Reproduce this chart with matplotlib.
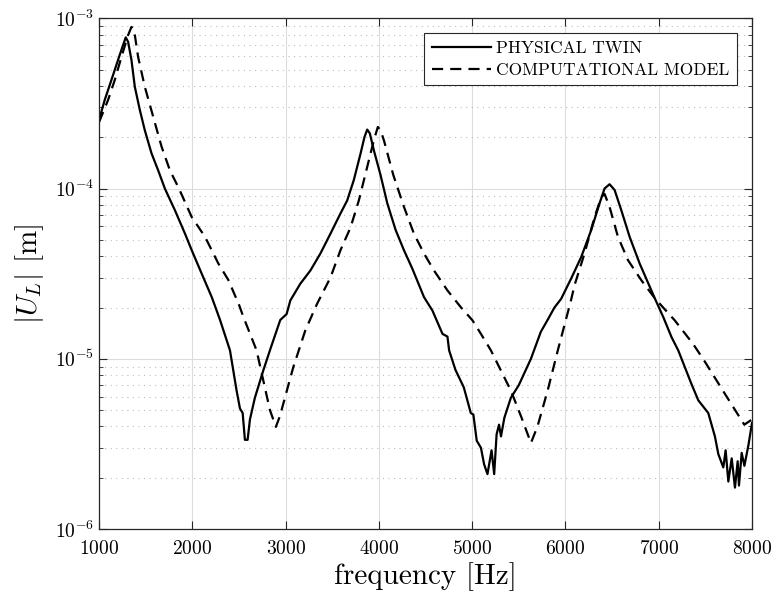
from matplotlib import pyplot as plt
from matplotlib.ticker import LogLocator, NullLocator, NullFormatter

# fuentes estilo LaTeX
plt.rcParams['font.family'] = ['cmr10']
plt.rcParams['mathtext.fontset'] = 'cm'
plt.rcParams['axes.formatter.use_mathtext'] = True
plt.rcParams['axes.unicode_minus'] = False

# datos: gemelo físico (medido)
f_twin = [1000, 1061, 1133, 1204, 1258, 1287, 1312, 1348, 1384, 1438, 1491, 1563,
          1634, 1706, 1814, 1922, 1994, 2101, 2209, 2296, 2404, 2475, 2511, 2540,
          2564, 2593, 2618, 2671, 2760, 2832, 2943, 3011, 3051, 3158, 3266, 3373,
          3481, 3588, 3660, 3731, 3803, 3846, 3875, 3903, 3946, 4018, 4090, 4180,
          4269, 4359, 4484, 4574, 4682, 4735, 4753, 4821, 4910, 4960, 4985, 5013,
          5049, 5094, 5128, 5164, 5208, 5236, 5262, 5288, 5309, 5345, 5415, 5500,
          5630, 5736, 5811, 5882, 5954, 6061, 6169, 6276, 6366, 6419, 6473, 6527,
          6599, 6688, 6796, 6957, 7050, 7137, 7209, 7351, 7424, 7531, 7602, 7639,
          7692, 7717, 7746, 7782, 7817, 7846, 7860, 7889, 7918, 7961, 8000]
u_twin = [2.52e-4, 3.31e-4, 4.34e-4, 5.69e-4, 6.97e-4, 7.73e-4, 7.28e-4, 5.69e-4,
          3.96e-4, 2.89e-4, 2.2e-4, 1.61e-4, 1.28e-4, 1.0e-4, 7.45e-5, 5.43e-5,
          4.34e-5, 3.16e-5, 2.3e-5, 1.7e-5, 1.12e-5, 6.5e-6, 5.1e-6, 4.8e-6,
          3.34e-6, 3.34e-6, 4.4e-6, 5.9e-6, 8.5e-6, 1.12e-5, 1.69e-5, 1.83e-5,
          2.2e-5, 2.76e-5, 3.3e-5, 4.15e-5, 5.43e-5, 7.13e-5, 8.5e-5, 1.12e-4,
          1.6e-4, 2.01e-4, 2.22e-4, 2.11e-4, 1.68e-4, 1.2e-4, 8.2e-5, 5.7e-5,
          4.34e-5, 3.38e-5, 2.3e-5, 1.92e-5, 1.4e-5, 1.35e-5, 1.12e-5, 8.6e-6,
          6.8e-6, 5.4e-6, 4.8e-6, 4.7e-6, 3.3e-6, 3.0e-6, 2.4e-6, 2.1e-6, 2.9e-6,
          2.1e-6, 3.6e-6, 4.1e-6, 3.5e-6, 4.5e-6, 5.9e-6, 7.0e-6, 1.0e-5, 1.44e-5,
          1.7e-5, 2.0e-5, 2.25e-5, 2.96e-5, 3.96e-5, 5.7e-5, 8.2e-5, 1.0e-4, 1.06e-4,
          9.8e-5, 7.45e-5, 5.2e-5, 3.62e-5, 2.27e-5, 1.75e-5, 1.34e-5, 1.12e-5,
          7.1e-6, 5.7e-6, 4.8e-6, 3.5e-6, 2.75e-6, 2.3e-6, 2.9e-6, 1.9e-6, 2.6e-6,
          1.75e-6, 2.5e-6, 1.8e-6, 2.8e-6, 2.35e-6, 3.1e-6, 4.2e-6]

# datos: modelo computacional
f_model = [1000, 1097, 1169, 1241, 1312, 1348, 1376, 1419, 1491, 1581, 1671, 1760,
           1857, 1994, 2137, 2280, 2387, 2503, 2548, 2689, 2832, 2896, 2939, 3082,
           3212, 3337, 3481, 3588, 3696, 3785, 3875, 3946, 3989, 4018, 4054, 4155,
           4269, 4376, 4484, 4591, 4735, 4878, 5004, 5094, 5201, 5415, 5530, 5630,
           5700, 5809, 5918, 6059, 6097, 6204, 6312, 6384, 6419, 6473, 6563, 6671,
           6814, 6957, 7172, 7369, 7490, 7703, 7917, 8000]
u_model = [2.45e-4, 3.31e-4, 4.34e-4, 5.94e-4, 7.97e-4, 8.9e-4, 8.54e-4, 5.94e-4,
           3.96e-4, 2.64e-4, 1.76e-4, 1.28e-4, 1.0e-4, 6.8e-5, 5.2e-5, 3.62e-5,
           2.9e-5, 2.06e-5, 1.76e-5, 1.12e-5, 5.0e-6, 3.98e-6, 4.6e-6, 8.9e-6,
           1.47e-5, 2.1e-5, 3.0e-5, 4.34e-5, 5.9e-5, 8.5e-5, 1.34e-4, 1.92e-4,
           2.3e-4, 2.2e-4, 1.92e-4, 1.2e-4, 7.8e-5, 5.43e-5, 4.15e-5, 3.3e-5,
           2.52e-5, 2.01e-5, 1.68e-5, 1.4e-5, 1.12e-5, 6.5e-6, 4.5e-6, 3.2e-6,
           4.0e-6, 6.5e-6, 1.12e-5, 2.2e-5, 2.7e-5, 4.15e-5, 6.8e-5, 8.9e-5, 9.3e-5,
           7.8e-5, 5.2e-5, 3.79e-5, 2.89e-5, 2.27e-5, 1.68e-5, 1.22e-5, 9.7e-6,
           6.3e-6, 4.1e-6, 4.4e-6]

fig = plt.figure(figsize=(7.71, 5.99), dpi=100)
ax = fig.add_axes([0.1284, 0.1169, 0.8470, 0.8525])

ax.plot(f_twin, u_twin, color='black', lw=1.6, label='PHYSICAL TWIN')
ax.plot(f_model, u_model, color='black', lw=1.6, ls=(0, (5, 3.2)), label='COMPUTATIONAL MODEL')

ax.set_yscale('log')
ax.set_xlim(1000, 8000)
ax.set_ylim(1e-6, 1e-3)
ax.set_xticks(range(1000, 8001, 1000))
ax.xaxis.set_minor_locator(NullLocator())
ax.yaxis.set_major_locator(LogLocator(base=10, numticks=10))
ax.yaxis.set_minor_locator(LogLocator(base=10, subs=range(2, 10), numticks=10))
ax.yaxis.set_minor_formatter(NullFormatter())

ax.grid(True, which='major', color='#dcdcdc', lw=0.8, ls='-')
ax.grid(True, which='minor', axis='y', color='#bdbdbd', lw=0.8, ls=(0, (1, 4)))
ax.set_axisbelow(True)

ax.tick_params(which='both', direction='in', top=True, right=True, colors='#262626',
               labelcolor='black', labelsize=14)
ax.tick_params(which='major', length=6)
ax.tick_params(which='minor', length=3)
ax.tick_params(axis='x', pad=8)
for s in ax.spines.values():
    s.set_color('#262626')
    s.set_linewidth(0.9)

ax.set_xlabel('frequency [Hz]', fontsize=21, labelpad=3)
ax.set_ylabel('$|U_L|$ [m]', fontsize=21, labelpad=6)

leg = ax.legend(loc='upper right', fontsize=12.5, fancybox=False, framealpha=1,
                edgecolor='#262626', borderaxespad=0.85, handlelength=3.4,
                handletextpad=0.3, borderpad=0.45, labelspacing=0.35)
leg.get_frame().set_linewidth(0.8)

fig.savefig('out.png', dpi=100)
